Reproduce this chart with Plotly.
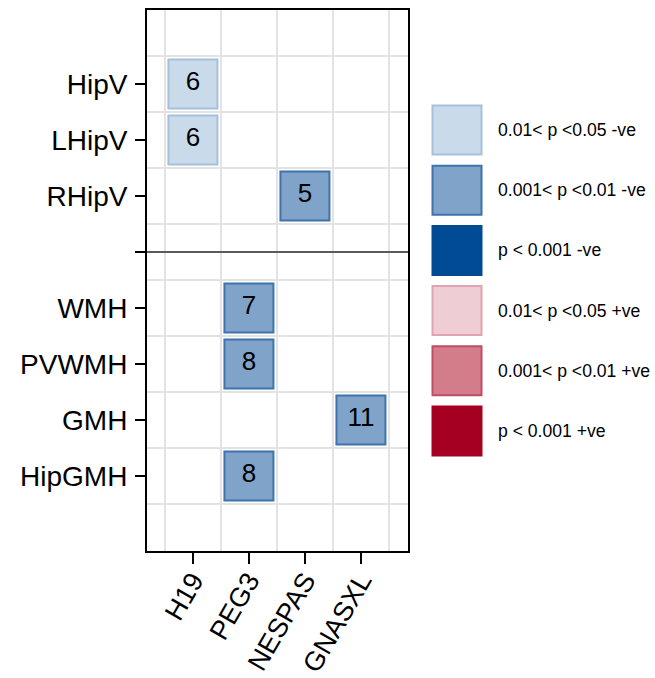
import plotly.graph_objects as go

# ---- data ----
genes = ["H19", "PEG3", "NESPAS", "GNASXL"]
rows_top = ["HipV", "LHipV", "RHipV"]
rows_bottom = ["WMH", "PVWMH", "GMH", "HipGMH"]

cell_gene = ["H19", "H19", "NESPAS", "PEG3", "PEG3", "GNASXL", "PEG3"]
cell_row = ["HipV", "LHipV", "RHipV", "WMH", "PVWMH", "GMH", "HipGMH"]
cell_n = [6, 6, 5, 7, 8, 11, 8]
cell_cat = [0, 0, 1, 1, 1, 1, 1]

legend_labels = ["0.01< p <0.05 -ve", "0.001< p <0.01 -ve", "p < 0.001 -ve",
                 "0.01< p <0.05 +ve", "0.001< p <0.01 +ve", "p < 0.001 +ve"]
legend_fill = ["#c9daea", "#7fa3c9", "#004b93", "#efcdd4", "#d47d8a", "#a50021"]
legend_edge = ["#a5c1dd", "#3f73ae", "#004b93", "#e0a3b0", "#c24c62", "#a50021"]

# ---- positions ----
rows_all = rows_top + [""] + rows_bottom
sep_pos = len(rows_top) + 1
ypos = {r: i + 1 for i, r in enumerate(rows_all)}
xpos = {g: i + 1 for i, g in enumerate(genes)}

fig = go.Figure()
fig.add_trace(go.Scatter(
    x=[xpos[g] for g in cell_gene],
    y=[ypos[r] for r in cell_row],
    mode="markers+text",
    text=[str(n) for n in cell_n],
    textposition="middle center",
    textfont=dict(family="Liberation Sans", size=26, color="black"),
    marker=dict(symbol="square", size=49,
                color=[legend_fill[c] for c in cell_cat],
                line=dict(width=2, color=[legend_edge[c] for c in cell_cat])),
    showlegend=False, hoverinfo="skip", cliponaxis=False,
))

# legend panel
leg_idx = list(range(len(legend_labels)))
fig.add_trace(go.Scatter(
    x=[32] * len(leg_idx), y=leg_idx, xaxis="x2", yaxis="y2",
    mode="markers",
    marker=dict(symbol="square", size=49, color=legend_fill,
                line=dict(width=2, color=legend_edge)),
    showlegend=False, hoverinfo="skip", cliponaxis=False,
))
for i, lab in zip(leg_idx, legend_labels):
    fig.add_annotation(x=71, y=i, xref="x2", yref="y2", text=lab,
                       showarrow=False, xanchor="left", yanchor="middle",
                       font=dict(family="Liberation Sans", size=17.6, color="black"))

# separator
fig.add_shape(type="line", xref="x domain", x0=0, x1=1, yref="y",
              y0=sep_pos, y1=sep_pos, line=dict(color="#5a5a5a", width=2))

W, H = 655, 678
ml, mr, mt, mb = 147, 5, 10, 127
pw = W - ml - mr
x_right_px = 408

fig.update_layout(
    width=W, height=H,
    margin=dict(l=ml, r=mr, t=mt, b=mb),
    plot_bgcolor="white", paper_bgcolor="white",
    font=dict(family="Liberation Sans", color="black"),
    xaxis=dict(domain=[0, (x_right_px - ml) / pw],
               range=[0.18, len(genes) + 0.84],
               tickvals=list(range(1, len(genes) + 1)), ticktext=genes,
               tickangle=-60, tickfont=dict(size=27, color="black"),
               ticks="outside", ticklen=11, tickwidth=2, tickcolor="black",
               ticklabelstandoff=-10,
               showgrid=False, zeroline=False,
               showline=True, linecolor="black", linewidth=2, mirror=True,
               minor=dict(tickvals=[i + 0.5 for i in range(len(genes) + 1)],
                          showgrid=True, gridcolor="#e3e3e3", gridwidth=2, ticks=""),
               automargin=False, fixedrange=True),
    yaxis=dict(domain=[0, 1],
               range=[len(rows_all) + 1.34, -0.32],
               tickvals=list(range(1, len(rows_all) + 1)), ticktext=rows_all,
               tickfont=dict(size=28, color="black"),
               ticks="outside", ticklen=10, tickwidth=2, tickcolor="black",
               ticklabelstandoff=2,
               showgrid=False, zeroline=False,
               showline=True, linecolor="black", linewidth=2, mirror=True,
               minor=dict(tickvals=[i + 0.5 for i in range(len(rows_all) + 1)],
                          showgrid=True, gridcolor="#e3e3e3", gridwidth=2, ticks=""),
               automargin=False, fixedrange=True),
    xaxis2=dict(domain=[(425 - ml) / pw, 1], range=[0, W - mr - 425],
                visible=False, fixedrange=True),
    yaxis2=dict(domain=[0, 1], range=[6.993, -1.993], anchor="x2",
                visible=False, fixedrange=True),
)

fig.write_html("out.html", config={"displayModeBar": False},
               post_script="document.body.style.margin='0';document.body.style.overflow='hidden';")
